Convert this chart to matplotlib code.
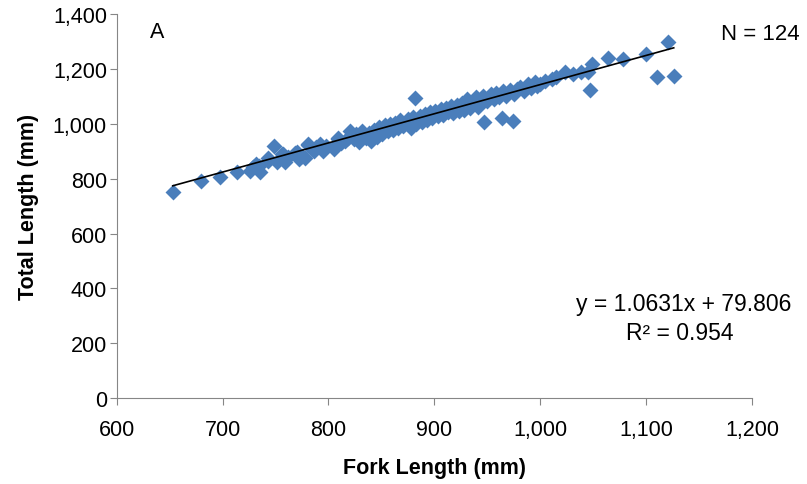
import numpy as np
import matplotlib
matplotlib.use("Agg")
import matplotlib.pyplot as plt

plt.rcParams['font.family'] = ['Liberation Sans', 'DejaVu Sans']

# Fork length (mm) / total length (mm)
fork_len = [
    653, 680, 698, 714, 726, 729, 734, 743, 749, 751, 757, 770, 775, 781, 786, 794, 805, 809,
    882, 947, 964, 974,
    1000, 1004, 1011, 1023, 1031, 1045, 1047, 1049, 1064, 1078, 1100, 1110, 1121, 1126,
    732, 735, 743, 756, 759, 768, 772, 778, 781, 784, 792, 795, 805, 809, 816, 820, 824,
    826, 829, 832, 835, 838, 840, 843, 846, 848, 851, 853, 856, 858, 861, 863, 866, 868,
    870, 873, 875, 878, 880, 883, 886, 888, 891, 893, 896, 898, 901, 903, 906, 908, 911,
    913, 916, 918, 921, 923,
    926, 928, 931, 934, 936, 939, 941, 944, 946, 950, 953, 956, 958, 961, 965, 968, 971,
    975, 978, 981, 985, 988, 991, 995, 997,
    762, 788, 798, 812, 818, 1015, 1038,
]
total_len = [
    750, 792, 805, 825, 829, 841, 847, 865, 920, 859, 890, 897, 883, 922, 902, 914, 908, 944,
    1094, 1005, 1020, 1011,
    1145, 1157, 1163, 1187, 1181, 1187, 1124, 1218, 1238, 1236, 1254, 1169, 1297, 1175,
    853, 823, 877, 890, 859, 895, 871, 877, 926, 908, 926, 902, 914, 950, 938, 974, 944,
    962, 932, 972, 948, 965, 938, 978, 952, 988, 962, 994, 972, 998, 976, 1004, 986, 1014,
    992, 1008, 1018, 986, 1024, 998, 1028, 1006, 1034, 1012, 1044, 1022, 1048, 1028, 1054, 1032, 1058,
    1042, 1064, 1038, 1070, 1048,
    1076, 1052, 1090, 1058, 1080, 1096, 1062, 1082, 1100, 1084, 1108, 1092, 1114, 1098, 1118, 1102, 1124,
    1108, 1128, 1134, 1118, 1144, 1132, 1154, 1138,
    880, 915, 920, 930, 950, 1170, 1190,
]

slope, intercept = 1.0631, 79.806
xticks = [600, 700, 800, 900, 1000, 1100, 1200]
yticks = [0, 200, 400, 600, 800, 1000, 1200, 1400]

fig = plt.figure(figsize=(8.07, 4.85), dpi=100)
ax = fig.add_axes([0.1445, 0.177, 0.7875, 0.792])

ax.scatter(fork_len, total_len, marker='D', s=66, color='#4A7EBB', linewidths=0, zorder=2)

xl = np.array([min(fork_len), max(fork_len)])
ax.plot(xl, slope * xl + intercept, color='black', lw=1.2, zorder=3)

ax.set_xlim(600, 1200)
ax.set_ylim(0, 1400)
ax.set_xticks(xticks)
ax.set_yticks(yticks)
ax.set_xticklabels([f"{v:,}" for v in xticks])
ax.set_yticklabels([f"{v:,}" for v in yticks])

for s in ['top', 'right']:
    ax.spines[s].set_visible(False)
for s in ['left', 'bottom']:
    ax.spines[s].set_color('#868686')
ax.tick_params(direction='out', length=5, color='#868686', labelsize=15.5)
ax.tick_params(axis='x', pad=10)
ax.tick_params(axis='y', pad=2)

ax.set_xlabel("Fork Length (mm)", fontsize=15.5, fontweight='bold', labelpad=12)
ax.set_ylabel("Total Length (mm)", fontsize=15.5, fontweight='bold', labelpad=10)

fig.text(157 / 807, 1 - 32 / 485, "A", fontsize=15.5, ha='center', va='center')
fig.text(760 / 807, 1 - 35 / 485, "N = 124", fontsize=16, ha='center', va='center')
fig.text(684 / 807, 1 - 305 / 485, "y = 1.0631x + 79.806", fontsize=16.5, ha='center', va='center')
fig.text(680 / 807, 1 - 333 / 485, "R² = 0.954", fontsize=16.5, ha='center', va='center')

fig.savefig("out.png", dpi=100)
